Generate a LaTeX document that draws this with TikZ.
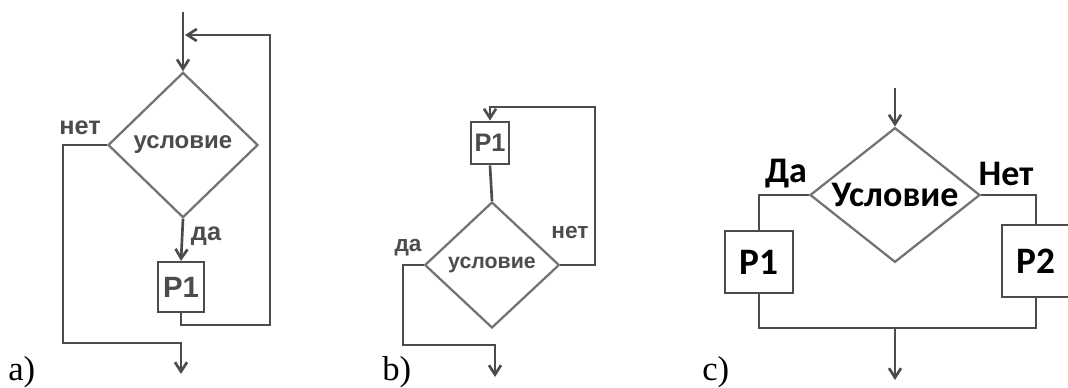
\documentclass[tikz,border=0pt]{standalone}
\usepackage{fontspec}
\setmainfont{Liberation Serif}
\newfontfamily\arialfont{Liberation Sans}
\newfontfamily\calibrifont{Carlito}
\usetikzlibrary{shapes.geometric,arrows.meta}
\tikzstyle{box}=[rectangle,draw=black!70,line width=1.7pt,fill=white,inner sep=0pt,anchor=center]
\tikzstyle{cond}=[diamond,draw=black!55,line width=1.7pt,inner sep=0pt,anchor=center]
\tikzstyle{annot}=[align=center,inner sep=0pt]
\tikzstyle{flow}=[draw=black!70,line width=2pt]
\tikzstyle{arr}=[flow,-{Straight Barb[length=7pt,width=9pt]}]
\newcommand{\smallsans}[1]{\arialfont\bfseries\fontsize{#1}{#1}\selectfont\color{black!70}}
\newcommand{\bigsans}[1]{\calibrifont\fontsize{#1}{#1}\selectfont}

\begin{document}
\begin{tikzpicture}[x=0.75pt,y=-0.75pt]
	\useasboundingbox (0,0) rectangle (1068,387);

	% a)
	\node[cond, minimum width=112.5pt, minimum height=109pt, font=\smallsans{18}](condA) at (183,145){условие};
	\node[box, minimum width=35pt, minimum height=37.5pt, font=\smallsans{22}](procA) at (181,287){P1};
	\coordinate (inA) at (183,12);
	\coordinate (backA) at (185,35);
	\coordinate (loopA) at (270,325);
	\coordinate (exitA) at (63,343);
	\coordinate (outA) at (181,374);
	\draw[arr] (inA) -- (condA.north);
	\draw[arr] (condA.south) -- (procA.north);
	\draw[arr] (procA.south) |- (loopA) |- (backA);
	\draw[arr] (condA.west) -| (exitA) -| (outA);
	\node[annot, font=\smallsans{19}] at (80,128) {нет};
	\node[annot, font=\smallsans{19}] at (206,236) {да};
	\node[annot, anchor=west, font=\fontsize{26}{26}\selectfont] at (8,372) {a)};

	% b)
	\node[box, minimum width=28.5pt, minimum height=32pt, font=\smallsans{19}](procB) at (490,143){P1};
	\node[cond, minimum width=101pt, minimum height=94.5pt, font=\smallsans{16}](condB) at (492,265){условие};
	\coordinate (loopB) at (595,107);
	\coordinate (exitB) at (403,345);
	\coordinate (outB) at (495,377);
	\draw[flow] (procB.south) -- (condB.north);
	\draw[arr] (condB.east) -| (loopB) -| (procB.north);
	\draw[arr] (condB.west) -| (exitB) -| (outB);
	\node[annot, font=\smallsans{17}] at (570,233) {нет};
	\node[annot, font=\smallsans{17}] at (408,248) {да};
	\node[annot, anchor=west, font=\fontsize{26}{26}\selectfont] at (382,372) {b)};

	% c)
	\node[cond, minimum width=127.5pt, minimum height=101pt,
		label={[annot, font=\bigsans{27}\bfseries]center:Условие}](condC) at (895,195){};
	\node[box, minimum width=51pt, minimum height=47pt, font=\bigsans{28}\bfseries](procC1) at (759,262){P1};
	\node[box, minimum width=51pt, minimum height=54pt, font=\bigsans{28}\bfseries](procC2) at (1036,261){P2};
	\coordinate (inC) at (895,88);
	\coordinate (joinC) at (895,328);
	\coordinate (outC) at (895,380);
	\draw[arr] (inC) -- (condC.north);
	\draw[flow] (condC.west) -| (procC1.north);
	\draw[flow] (condC.east) -| (procC2.north);
	\draw[flow] (procC1.south) |- (joinC) -| (procC2.south);
	\draw[arr] (joinC) -- (outC);
	\node[annot, font=\bigsans{27}\bfseries] at (786,174) {Да};
	\node[annot, font=\bigsans{27}\bfseries] at (1006,174) {Нет};
	\node[annot, anchor=west, font=\fontsize{26}{26}\selectfont] at (702,372) {c)};

\end{tikzpicture}
\end{document}
